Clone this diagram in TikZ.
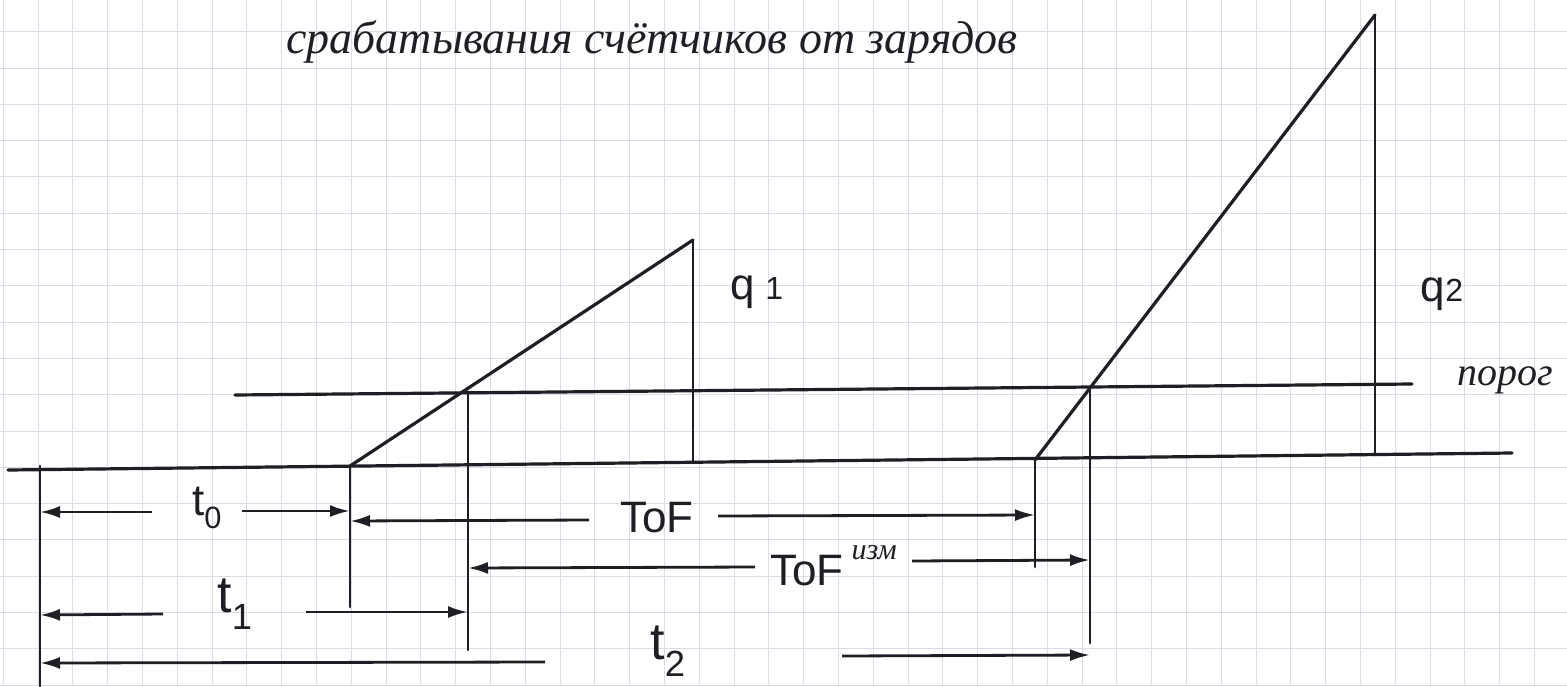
\documentclass[tikz,border=0pt]{standalone}
\usepackage{fontspec}
\setmainfont{Liberation Sans}
\newfontfamily\handfont{Liberation Serif}
\usetikzlibrary{arrows.meta}
\definecolor{ink}{RGB}{30,30,36}
\definecolor{gridc}{RGB}{216,222,232}
\tikzset{
  ink/.style={draw=ink, line width=3.2pt, line cap=round},
  thin ink/.style={draw=ink, line width=2.8pt, line cap=round},
  arr/.style={draw=ink, line width=2.8pt, -{Latex[length=20pt,width=12pt]}},
  gridline/.style={draw=gridc, line width=1pt},
  lbl/.style={inner sep=0pt, text=ink, font=\fontsize{44}{44}\selectfont},
  biglbl/.style={inner sep=0pt, text=ink, font=\fontsize{52}{52}\selectfont},
  hand/.style={inner sep=0pt, text=ink, font=\handfont\itshape\fontsize{46}{46}\selectfont}
}
\begin{document}
\begin{tikzpicture}[x=1pt,y=-1pt]
\useasboundingbox (0,0) rectangle (1567,686);
\fill[white] (0,0) rectangle (1567,686);
% grid paper
\foreach \i in {0,...,45} \draw[gridline] ({3.3+34.8*\i},0) -- ++(0,686);
\foreach \j in {0,...,18} \draw[gridline] (0,{31.7+36.3*\j}) -- ++(1567,0);

% title
\node[hand] (title) at (652,42) {срабатывания счётчиков от зарядов};

% key points
\coordinate (A0) at (8,470);
\coordinate (A1) at (1512,453);
\coordinate (P0) at (235,395);
\coordinate (P1) at (1412,384);
\coordinate (L0) at (350,466);
\coordinate (L1) at (693,240);
\coordinate (L1b) at (693,463);
\coordinate (L0d) at (350,607);
\coordinate (C1) at (468,392);
\coordinate (C1d) at (468,650);
\coordinate (R0) at (1035,460);
\coordinate (R1) at (1375,15);
\coordinate (R1b) at (1375,455);
\coordinate (R0d) at (1035,567);
\coordinate (C2) at (1090,387);
\coordinate (C2d) at (1090,643);
\coordinate (O) at (40,466);
\coordinate (Od) at (40,686);

% axes and threshold
\draw[ink] (A0) -- (A1);
\draw[ink] (P0) -- (P1);
% pulses
\draw[ink] (L0) -- (L1);
\draw[thin ink] (L1) -- (L1b);
\draw[ink] (R0) -- (R1);
\draw[thin ink] (R1) -- (R1b);
% verticals
\draw[thin ink] (O) -- (Od);
\draw[thin ink] (L0) -- (L0d);
\draw[thin ink] (C1) -- (C1d);
\draw[thin ink] (R0) -- (R0d);
\draw[thin ink] (C2) -- (C2d);

% labels
\node[lbl] (q1) at (757,292) {q\hspace{10pt}{\fontsize{32}{32}\selectfont 1}};
\node[lbl] (q2) at (1442,294) {q{\fontsize{32}{32}\selectfont 2}};
\node[hand, font=\handfont\itshape\fontsize{40}{40}\selectfont] (porog) at (1505,380) {порог};

% t0 row
\node[lbl] (t0) at (207,508) {t\textsubscript{0}};
\coordinate (t0a) at (152,512);
\coordinate (t0b) at (242,511);
\coordinate (t0L) at (40,512);
\coordinate (t0R) at (350,511);
\draw[arr] (t0a) -- (t0L);
\draw[arr] (t0b) -- (t0R);

% ToF row
\node[lbl] (tof) at (657,518) {ToF};
\coordinate (tofa) at (589,520);
\coordinate (tofb) at (718,516);
\coordinate (tofL) at (350,521);
\coordinate (tofR) at (1035,515);
\draw[arr] (tofa) -- (tofL);
\draw[arr] (tofb) -- (tofR);

% ToF izm row
\node[lbl, anchor=base west] (tofm) at (770,585) {ToF\hspace{8pt}\raisebox{26pt}{\handfont\itshape\fontsize{30}{30}\selectfont изм}};
\coordinate (tofma) at (755,567);
\coordinate (tofmb) at (912,561);
\coordinate (tofmL) at (468,568);
\coordinate (tofmR) at (1090,560);
\draw[arr] (tofma) -- (tofmL);
\draw[arr] (tofmb) -- (tofmR);

% t1 row
\node[biglbl] (t1) at (235,604) {t\textsubscript{1}};
\coordinate (t1a) at (163,614);
\coordinate (t1b) at (306,612);
\coordinate (t1L) at (40,615);
\coordinate (t1R) at (468,612);
\draw[arr] (t1a) -- (t1L);
\draw[arr] (t1b) -- (t1R);

% t2 row
\node[biglbl, anchor=south] (t2) at (668,677) {t\textsubscript{2}};
\coordinate (t2a) at (545,662);
\coordinate (t2b) at (842,656);
\coordinate (t2L) at (40,663);
\coordinate (t2R) at (1090,655);
\draw[arr] (t2a) -- (t2L);
\draw[arr] (t2b) -- (t2R);
\end{tikzpicture}
\end{document}
